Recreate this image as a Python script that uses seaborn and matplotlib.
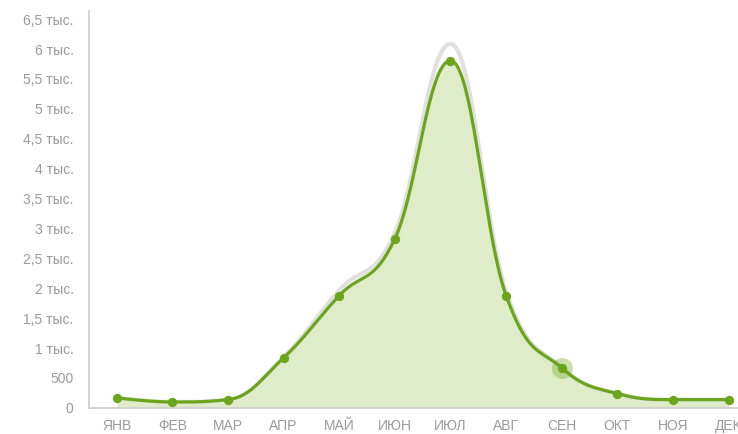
import numpy as np
import pandas as pd
import matplotlib
matplotlib.use("Agg")
import matplotlib.pyplot as plt
import seaborn as sns

months = ["ЯНВ", "ФЕВ", "МАР", "АПР", "МАЙ", "ИЮН", "ИЮЛ", "АВГ", "СЕН", "ОКТ", "НОЯ", "ДЕК"]
visits = [150, 80, 120, 820, 1860, 2810, 5790, 1860, 650, 220, 120, 120]
visits_prev = [150, 80, 120, 830, 1950, 2910, 6070, 1930, 660, 220, 120, 120]
y_ticks = [0, 500, 1000, 1500, 2000, 2500, 3000, 3500, 4000, 4500, 5000, 5500, 6000, 6500]
y_labels = ["0", "500", "1 тыс.", "1,5 тыс.", "2 тыс.", "2,5 тыс.", "3 тыс.", "3,5 тыс.",
            "4 тыс.", "4,5 тыс.", "5 тыс.", "5,5 тыс.", "6 тыс.", "6,5 тыс."]
hover_idx = 8

GREEN = "#6aa51c"
FILL = "#dfecc9"
SHADOW = "#e0e0e0"
TEXT = "#9a9a9a"


def spline(xs, ys, steps=40):
    # highcharts-like spline through the points
    smoothing = 1.5
    denom = smoothing + 1
    n = len(xs)
    left = [(xs[i], ys[i]) for i in range(n)]
    right = [(xs[i], ys[i]) for i in range(n)]
    for i in range(1, n - 1):
        px, py = xs[i], ys[i]
        lx, ly = xs[i - 1], ys[i - 1]
        nx, ny = xs[i + 1], ys[i + 1]
        lcx = (smoothing * px + lx) / denom
        lcy = (smoothing * py + ly) / denom
        rcx = (smoothing * px + nx) / denom
        rcy = (smoothing * py + ny) / denom
        corr = (rcy - lcy) * (rcx - px) / (rcx - lcx) + py - rcy
        lcy += corr
        rcy += corr
        if lcy > ly and lcy > py:
            lcy = max(ly, py)
            rcy = 2 * py - lcy
        elif lcy < ly and lcy < py:
            lcy = min(ly, py)
            rcy = 2 * py - lcy
        if rcy > ny and rcy > py:
            rcy = max(ny, py)
            lcy = 2 * py - rcy
        elif rcy < ny and rcy < py:
            rcy = min(ny, py)
            lcy = 2 * py - rcy
        left[i] = (lcx, lcy)
        right[i] = (rcx, rcy)
    cx, cy = [], []
    t = np.linspace(0, 1, steps)
    for i in range(n - 1):
        p0 = np.array([xs[i], ys[i]])
        p1 = np.array(right[i])
        p2 = np.array(left[i + 1])
        p3 = np.array([xs[i + 1], ys[i + 1]])
        pts = ((1 - t) ** 3)[:, None] * p0 + (3 * (1 - t) ** 2 * t)[:, None] * p1 \
            + (3 * (1 - t) * t ** 2)[:, None] * p2 + (t ** 3)[:, None] * p3
        cx.extend(pts[:, 0])
        cy.extend(pts[:, 1])
    return np.array(cx), np.array(cy)


x = np.arange(len(months))
sx, sy = spline(list(x), visits)
px, py = spline(list(x), visits_prev)
curve = pd.DataFrame({"x": sx, "y": sy})
shadow = pd.DataFrame({"x": px, "y": py})
points = pd.DataFrame({"x": x, "y": visits})

sns.set_theme(style="white")
plt.rcParams["font.family"] = ["Liberation Sans", "DejaVu Sans"]

fig = plt.figure(figsize=(7.38, 4.35), dpi=100)
ax = fig.add_axes([89 / 738, 26 / 435, 1 - 89 / 738, (409 - 12) / 435])

ax.fill_between(sx, 0, sy, color=FILL, lw=0, zorder=1)
sns.lineplot(data=shadow, x="x", y="y", ax=ax, color=SHADOW, lw=3, sort=False, zorder=2)
sns.lineplot(data=curve, x="x", y="y", ax=ax, color=GREEN, lw=2.3, sort=False, zorder=3)
sns.scatterplot(data=points, x="x", y="y", ax=ax, color=GREEN, s=45, linewidth=0, zorder=4)
ax.scatter([x[hover_idx]], [visits[hover_idx]], s=230, color=GREEN, alpha=0.35, lw=0, zorder=3)

ax.set_xlim(-0.5, 11.17)
ax.set_ylim(-20, 6620)
ax.set_xticks(x)
ax.set_xticklabels(months)
ax.set_yticks(y_ticks)
ax.set_yticklabels(y_labels)
ax.set_xlabel("")
ax.set_ylabel("")
ax.tick_params(axis="both", length=0, labelsize=10, colors=TEXT)
ax.tick_params(axis="y", pad=11)
ax.tick_params(axis="x", pad=7)
for s in ["top", "right"]:
    ax.spines[s].set_visible(False)
for s in ["left", "bottom"]:
    ax.spines[s].set_color("#cccccc")
    ax.spines[s].set_linewidth(1.2)

fig.savefig("out.png", dpi=100)
